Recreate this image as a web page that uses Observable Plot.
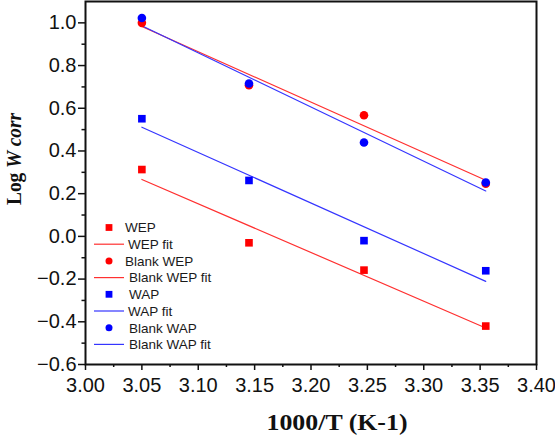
<!DOCTYPE html>
<html>
<head>
<meta charset="utf-8">
<script src="https://cdn.jsdelivr.net/npm/d3@7"></script>
<script src="https://cdn.jsdelivr.net/npm/@observablehq/plot@0.6"></script>
<style>
  html, body { margin: 0; padding: 0; background: #fff; }
  #chart { position: relative; width: 555px; height: 436px; }
</style>
</head>
<body>
<div id="chart"></div>
<script>
// ---- data ----
const invT      = [3.05, 3.145, 3.247, 3.355];
const wep       = [0.313, -0.030, -0.158, -0.420];
const blankWep  = [1.000, 0.708, 0.567, 0.247];
const wap       = [0.551, 0.262, -0.020, -0.161];
const blankWap  = [1.023, 0.716, 0.440, 0.252];

const xTicks = [3.00, 3.05, 3.10, 3.15, 3.20, 3.25, 3.30, 3.35, 3.40];
const xMinor = [3.025, 3.075, 3.125, 3.175, 3.225, 3.275, 3.325, 3.375];
const yTicks = [-0.6, -0.4, -0.2, 0.0, 0.2, 0.4, 0.6, 0.8, 1.0];
const yMinor = [-0.5, -0.3, -0.1, 0.1, 0.3, 0.5, 0.7, 0.9];

const seriesNames = ["WEP", "Blank WEP", "WAP", "Blank WAP"];
const seriesColor = ["#ff0000", "#ff0000", "#0000ff", "#0000ff"];
const seriesShape = ["square", "circle", "square", "circle"];

const table = (vals) => invT.map((x, i) => ({x, y: vals[i]}));

const RED = "#ff0000", BLUE = "#0000ff";
const LRED = "#ff3030", LBLUE = "#3535ff";

const marks = [];
// fit lines (library linear regression)
[[wep, LRED], [blankWep, LRED], [wap, LBLUE], [blankWap, LBLUE]].forEach(([v, c]) => {
  marks.push(Plot.linearRegressionY(table(v), {x: "x", y: "y", stroke: c, strokeWidth: 1.2, ci: 0}));
});
// points
marks.push(Plot.dot(table(wep), {x: "x", y: "y", symbol: "square", r: 4.3, fill: RED, stroke: "none"}));
marks.push(Plot.dot(table(wap), {x: "x", y: "y", symbol: "square", r: 4.3, fill: BLUE, stroke: "none"}));
marks.push(Plot.dot(table(blankWep), {x: "x", y: "y", r: 4.3, fill: RED, stroke: "none"}));
marks.push(Plot.dot(table(blankWap), {x: "x", y: "y", r: 4.3, fill: BLUE, stroke: "none"}));

// axes
marks.push(Plot.axisX({ticks: xTicks, tickSize: 6, tickPadding: 7, tickFormat: d3.format(".2f"), fontSize: 20, strokeWidth: 1.5, stroke: "#111", fill: "#111", label: null}));
marks.push(Plot.axisX({ticks: xMinor, tickSize: 3, tickFormat: () => "", strokeWidth: 1.5, stroke: "#111", label: null}));
marks.push(Plot.axisY({ticks: yTicks, tickSize: 7, tickPadding: 2, tickFormat: d3.format(".1f"), fontSize: 20, strokeWidth: 1.5, stroke: "#111", fill: "#111", label: null}));
marks.push(Plot.axisY({ticks: yMinor, tickSize: 3.5, tickFormat: () => "", strokeWidth: 1.5, stroke: "#111", label: null}));
marks.push(Plot.frame({stroke: "#111", strokeWidth: 2}));

const plot = Plot.plot({
  width: 555,
  height: 436,
  marginLeft: 85,
  marginRight: 19,
  marginTop: 1,
  marginBottom: 72,
  x: {domain: [3.0, 3.4]},
  y: {domain: [-0.6, 1.1]},
  style: {fontFamily: "'Liberation Sans', Arial, sans-serif", background: "#fff", color: "#111", overflow: "visible"},
  marks
});
document.getElementById("chart").appendChild(plot);

const svg = d3.select(plot);

// axis titles
svg.append("text")
  .attr("x", 337).attr("y", 430)
  .attr("text-anchor", "middle")
  .attr("font-family", "'Liberation Serif', 'Times New Roman', serif")
  .attr("font-weight", "bold").attr("font-size", 23).attr("fill", "#111")
  .attr("textLength", 141).attr("lengthAdjust", "spacingAndGlyphs")
  .text("1000/T (K-1)");

const yt = svg.append("text")
  .attr("transform", "translate(21,159) rotate(-90)")
  .attr("text-anchor", "middle")
  .attr("font-family", "'Liberation Serif', 'Times New Roman', serif")
  .attr("font-weight", "bold").attr("font-size", 22).attr("fill", "#111")
  .attr("textLength", 92).attr("lengthAdjust", "spacingAndGlyphs");
yt.append("tspan").text("Log ");
yt.append("tspan").attr("font-style", "italic").text("W corr");

// legend
const lg = svg.append("g")
  .attr("text-anchor", "start")
  .attr("font-family", "'Liberation Sans', Arial, sans-serif")
  .attr("font-size", 13.5).attr("fill", "#1a1a1a");
const rows = [];
seriesNames.forEach((n, i) => {
  rows.push({label: n, kind: seriesShape[i], color: seriesColor[i]});
  rows.push({label: n + " fit", kind: "line", color: i < 2 ? LRED : LBLUE});
});
const textX = [125, 128, 125, 129, 129, 128, 129, 129];
rows.forEach((r, i) => {
  const y = 227.5 + i * 16.7;
  if (r.kind === "square") {
    lg.append("rect").attr("x", 109 - 3.4).attr("y", y - 3.4).attr("width", 6.8).attr("height", 6.8).attr("fill", r.color);
  } else if (r.kind === "circle") {
    lg.append("circle").attr("cx", 109).attr("cy", y).attr("r", 3.5).attr("fill", r.color);
  } else {
    lg.append("line").attr("x1", 94).attr("x2", 124).attr("y1", y).attr("y2", y).attr("stroke", r.color).attr("stroke-width", 1.2);
  }
  lg.append("text").attr("x", textX[i]).attr("y", y).attr("dy", "0.36em").attr("text-anchor", "start").text(r.label);
});
</script>
</body>
</html>
